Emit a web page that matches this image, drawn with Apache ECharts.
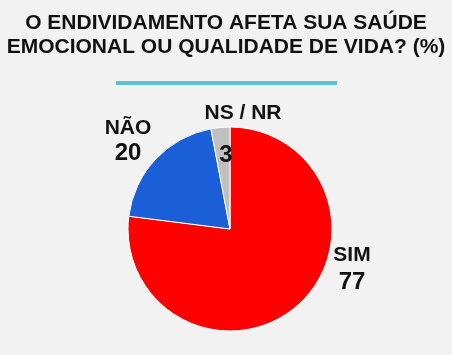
<!DOCTYPE html>
<html><head><meta charset="utf-8">
<script src="https://cdn.jsdelivr.net/npm/echarts@6/dist/echarts.min.js"></script>
<style>html,body{margin:0;padding:0;background:#f2f2f2}#c{width:452px;height:355px}</style>
</head><body><div id="c"></div>
<script>
const titleLines = ['O ENDIVIDAMENTO AFETA SUA SAÚDE', 'EMOCIONAL OU QUALIDADE DE VIDA? (%)'];
const categories = ['SIM', 'NÃO', 'NS / NR'];
const values = [77, 20, 3];
const colors = ['#ff0000', '#1a5fd8', '#c0c0c0'];

const labelPos = [
  {x: 352, y: 243},
  {x: 128, y: 116},
  {x: 243, y: 101}
];
const valueLineHeight = [30, 26, 60];
const valuePadRight = [0, 0, 34];

const F = 'Liberation Sans';
const chart = echarts.init(document.getElementById('c'), null, {renderer: 'canvas'});
chart.setOption({
  backgroundColor: '#f2f2f2',
  title: {
    text: titleLines.join('\n'),
    left: 'center', top: 6,
    textStyle: {fontFamily: F, fontWeight: 'bold', fontSize: 21, color: '#111', lineHeight: 24}
  },
  graphic: [{type: 'rect', shape: {x: 116, y: 81, width: 221, height: 4}, style: {fill: '#5bc0da'}}],
  series: [{
    type: 'pie',
    center: [230, 229],
    radius: 102,
    startAngle: 90,
    clockwise: true,
    animation: false,
    itemStyle: {borderColor: '#ffffff', borderWidth: 1},
    labelLine: {show: false},
    label: {
      show: true,
      position: 'outside',
      formatter: p => '{n|' + p.name + '}\n{v|' + p.value + '}'
    },
    labelLayout: p => {
      const l = labelPos[p.dataIndex];
      return {x: l.x, y: l.y, align: 'center', verticalAlign: 'top'};
    },
    data: categories.map((c, i) => ({
      name: c, value: values[i], itemStyle: {color: colors[i]},
      label: {rich: {
        n: {fontFamily: F, fontWeight: 'bold', fontSize: 21, color: '#111', lineHeight: 24},
        v: {fontFamily: F, fontWeight: 'bold', fontSize: 24, color: '#111', lineHeight: valueLineHeight[i], padding: [0, valuePadRight[i], 0, 0]}
      }}
    }))
  }]
});
</script></body></html>
